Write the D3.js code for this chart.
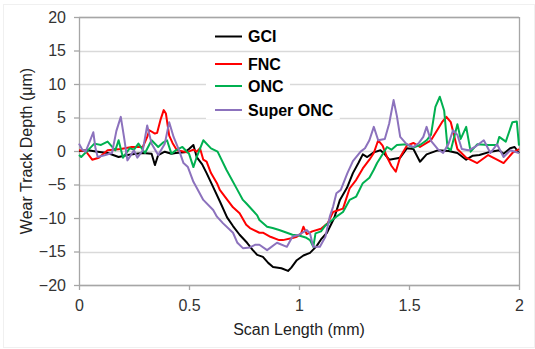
<!DOCTYPE html>
<html>
<head>
<meta charset="utf-8">
<script src="https://cdn.jsdelivr.net/npm/d3@7/dist/d3.min.js"></script>
<style>
	body{margin:0;background:#fff;}
	svg text{font-family:"Liberation Sans", Arial, sans-serif;}
</style>
</head>
<body>
<svg id="chart" width="535" height="349"></svg>
<script>

// values, [scan length mm, depth um]
var seriesNames = ["GCI", "FNC", "ONC", "Super ONC"];
var xTicks = [0, 0.5, 1, 1.5, 2];
var yTicks = [-20, -15, -10, -5, 0, 5, 10, 15, 20];

var gci = [[0,0],[0.04,0.1],[0.085,-0.1],[0.13,-0.3],[0.18,-0.9],[0.22,-0.6],[0.26,-0.4],[0.29,-0.3],[0.33,-0.4],[0.345,-2.1],[0.36,-0.6],[0.39,-0.1],[0.42,-0.4],[0.44,-0.3],[0.48,-0.2],[0.5,0.3],[0.52,0.9],[0.535,-0.9],[0.56,-2],[0.58,-3.3],[0.61,-5.4],[0.64,-7.5],[0.673,-9.9],[0.7,-11.2],[0.73,-12.5],[0.764,-13.7],[0.79,-14.8],[0.81,-15.5],[0.836,-15.8],[0.86,-16.7],[0.882,-17.3],[0.92,-17.5],[0.95,-17.9],[0.965,-17.4],[0.99,-16.3],[1.02,-15.6],[1.05,-15.2],[1.08,-14.2],[1.1,-13.2],[1.127,-12.2],[1.16,-10],[1.186,-7.3],[1.218,-5.5],[1.245,-3.3],[1.27,-1.8],[1.29,-0.5],[1.31,-0.9],[1.34,-0.2],[1.37,0.1],[1.39,-0.5],[1.41,-1.3],[1.46,-1],[1.49,0.4],[1.52,0.3],[1.55,-1.6],[1.58,-0.5],[1.63,0.1],[1.68,0],[1.72,-0.3],[1.76,-1.3],[1.79,-0.7],[1.82,-0.6],[1.86,-0.2],[1.91,0.1],[1.93,-0.4],[1.96,0.4],[1.98,0.6],[2,-0.3]];

var fnc = [[0,0.1],[0.03,0],[0.06,-1.3],[0.09,-1],[0.13,0.1],[0.19,0.3],[0.24,0.6],[0.29,0.6],[0.31,2.1],[0.32,3.1],[0.345,2.6],[0.355,2.7],[0.37,4.6],[0.385,6.1],[0.395,5.6],[0.41,2.3],[0.425,1.2],[0.445,0.1],[0.49,-0.2],[0.52,0.2],[0.535,-0.1],[0.55,0.4],[0.565,-1.3],[0.58,-1.6],[0.6,-3.3],[0.627,-4.8],[0.64,-5.8],[0.7,-8.4],[0.73,-9.3],[0.76,-11],[0.777,-11.5],[0.82,-12.2],[0.836,-12.2],[0.87,-12.8],[0.91,-13.3],[0.927,-13.3],[0.97,-13],[0.99,-12.8],[1.01,-12.3],[1.02,-11.3],[1.035,-12.4],[1.06,-12],[1.1,-11.6],[1.13,-10.8],[1.155,-9.1],[1.2,-8.6],[1.23,-5.6],[1.26,-4.3],[1.29,-2.6],[1.32,-1.3],[1.34,-0.3],[1.36,1.6],[1.38,0.8],[1.4,-0.9],[1.42,-2.2],[1.44,-3.1],[1.46,-0.9],[1.49,0.8],[1.52,1.2],[1.55,0.6],[1.58,1.2],[1.6,1.6],[1.63,3.2],[1.65,4.3],[1.67,5.1],[1.69,4.3],[1.72,0.3],[1.76,-1],[1.81,-1.8],[1.86,-0.6],[1.9,-1.3],[1.93,-1.8],[1.97,-0.3],[2,0.3]];

var onc = [[0,-0.6],[0.01,-0.9],[0.04,0.1],[0.07,1.1],[0.1,0.9],[0.13,1.4],[0.165,0.1],[0.18,1.6],[0.2,-1],[0.23,0.4],[0.25,0.2],[0.27,1.1],[0.3,-0.3],[0.33,1.6],[0.36,0.6],[0.38,1.2],[0.4,1.6],[0.42,-0.4],[0.44,0.1],[0.47,0.6],[0.5,-0.4],[0.52,-2.4],[0.535,-0.9],[0.565,1.6],[0.6,0.4],[0.63,-0.1],[0.67,-2.8],[0.72,-5.8],[0.745,-7.3],[0.76,-7.8],[0.81,-9.6],[0.82,-10.3],[0.855,-11.3],[0.88,-11.5],[0.91,-11.8],[0.945,-12.2],[0.97,-12.5],[1,-12.6],[1.03,-12.9],[1.05,-13.3],[1.065,-14.3],[1.075,-12.3],[1.1,-12],[1.12,-11.1],[1.14,-10.6],[1.17,-9.8],[1.2,-9.1],[1.23,-7.3],[1.26,-6.8],[1.29,-4.8],[1.32,-4],[1.34,-2.8],[1.355,-1.8],[1.37,-1],[1.4,0.6],[1.42,0.2],[1.445,0.9],[1.49,1],[1.52,0.5],[1.55,0.9],[1.58,1.6],[1.6,2.4],[1.62,6.6],[1.64,8.1],[1.66,6],[1.675,0.5],[1.69,0.1],[1.72,4],[1.735,1.8],[1.76,3.6],[1.78,-0.1],[1.81,1],[1.86,0.9],[1.9,0.9],[1.91,2.1],[1.94,1.4],[1.97,4.3],[1.99,4.4],[2,0.8]];

var superOnc = [[0,1.1],[0.015,0.2],[0.03,-0.1],[0.05,1.5],[0.065,2.8],[0.075,0.4],[0.085,-0.9],[0.12,-0.6],[0.15,-0.3],[0.17,3],[0.19,5.1],[0.205,2],[0.22,-1.4],[0.25,0.1],[0.265,-1],[0.29,0.1],[0.31,3.8],[0.33,1.1],[0.36,-0.6],[0.39,1.1],[0.41,4.3],[0.43,2.1],[0.455,0.1],[0.475,-1.8],[0.495,-2.4],[0.52,-4.6],[0.535,-5.5],[0.565,-7.3],[0.61,-8.8],[0.627,-9.8],[0.655,-10.8],[0.7,-12.2],[0.72,-13.7],[0.745,-14.5],[0.777,-14.4],[0.8,-14],[0.82,-14],[0.855,-14.8],[0.9,-13.7],[0.945,-14.3],[0.97,-12.8],[1,-12.5],[1.035,-11.8],[1.05,-12.3],[1.065,-14.3],[1.095,-14.3],[1.12,-12.8],[1.14,-9.8],[1.155,-8.3],[1.17,-6.3],[1.19,-5.8],[1.22,-3.3],[1.245,-1.5],[1.28,-0.1],[1.3,0.4],[1.32,1.6],[1.34,3.6],[1.36,1.6],[1.39,1.8],[1.41,4.1],[1.43,7.6],[1.445,5.2],[1.46,2.1],[1.49,1],[1.52,0.6],[1.545,1.2],[1.565,2.1],[1.58,3.6],[1.6,1.5],[1.63,0.3],[1.655,-0.3],[1.68,1.1],[1.7,3.1],[1.72,2.4],[1.74,0.3],[1.77,0.1],[1.8,0.6],[1.84,1.6],[1.87,-0.3],[1.9,1],[1.93,-0.9],[1.96,0.1],[2,-0.3]];

var seriesData = [gci, fnc, onc, superOnc];
var colors = ["#000000", "#ff0000", "#00b050", "#8c72bd"];

var W = 535, H = 349;
var margin = {top:17, right:16, bottom:64, left:79};
var w = W - margin.left - margin.right;
var h = H - margin.top - margin.bottom;

var svg = d3.select("#chart");

// faint outer chart border
svg.append("rect")
	.attr("x", 3.5).attr("y", 4.5)
	.attr("width", W - 4).attr("height", H - 6)
	.attr("fill", "none").attr("stroke", "#f0f0f0");

var g = svg.append("g").attr("transform", "translate(" + margin.left + "," + margin.top + ")");

var x = d3.scaleLinear().domain([0, 2]).range([0, w]);
var y = d3.scaleLinear().domain([-20, 20]).range([h, 0]);

// gridlines
g.append("g").selectAll("line")
	.data(yTicks)
	.enter()
	.append("line")
	.attr("x1", 0).attr("x2", w)
	.attr("y1", function(d){ return Math.round(y(d)) + 0.5; })
	.attr("y2", function(d){ return Math.round(y(d)) + 0.5; })
	.attr("stroke", "#d9d9d9")
	.attr("stroke-width", 1.3);

// top + right border of the plot area
g.append("line")
	.attr("x1", w + 0.5).attr("x2", w + 0.5)
	.attr("y1", 0).attr("y2", h)
	.attr("stroke", "#a6a6a6").attr("stroke-width", 1.3);
g.append("line")
	.attr("x1", 0).attr("x2", w)
	.attr("y1", 0.5).attr("y2", 0.5)
	.attr("stroke", "#a6a6a6").attr("stroke-width", 1.3);

var yAxis = d3.axisLeft(y).tickValues(yTicks).tickSize(5).tickSizeOuter(0).tickPadding(8);
var xAxis = d3.axisBottom(x).tickValues(xTicks).tickSize(5).tickSizeOuter(0).tickPadding(10)
	.tickFormat(function(d){ return String(d); });

var gy = g.append("g").call(yAxis);
var gx = g.append("g").attr("transform", "translate(0," + h + ")").call(xAxis);

[gx, gy].forEach(function(ax){
	ax.select(".domain").attr("stroke", "#a6a6a6").attr("stroke-width", 1.3);
	ax.selectAll(".tick line").attr("stroke", "#a6a6a6").attr("stroke-width", 1.3);
	ax.selectAll(".tick text")
		.attr("fill", "#333")
		.style("font-size", "16px")
		.style("font-family", "'Liberation Sans', Arial, sans-serif");
});

// curves
var line = d3.line()
	.x(function(d){ return x(d[0]); })
	.y(function(d){ return y(d[1]); });

g.append("g").selectAll("path")
	.data(seriesData)
	.enter()
	.append("path")
	.attr("d", line)
	.attr("fill", "none")
	.attr("stroke", function(d, i){ return colors[i]; })
	.attr("stroke-width", 2)
	.attr("stroke-linejoin", "round");

// axis titles
svg.append("text")
	.attr("x", margin.left + w / 2)
	.attr("y", 335)
	.attr("text-anchor", "middle")
	.attr("fill", "#222")
	.style("font-size", "16px")
	.text("Scan Length (mm)");

svg.append("text")
	.attr("transform", "translate(31.5," + (margin.top + h / 2) + ") rotate(-90)")
	.attr("text-anchor", "middle")
	.attr("fill", "#222")
	.style("font-size", "16px")
	.text("Wear Track Depth (μm)");

// legend, each entry sits on its own white patch like excel does
var legendY = [36.5, 64, 86, 110];
var legend = svg.append("g");
var items = legend.selectAll("g")
	.data(seriesNames)
	.enter()
	.append("g")
	.attr("transform", function(d, i){ return "translate(0," + legendY[i] + ")"; });

items.append("rect")
	.attr("class", "bg")
	.attr("x", 206).attr("y", -9)
	.attr("height", 18)
	.attr("fill", "#fff");

items.append("line")
	.attr("x1", 215).attr("x2", 242)
	.attr("y1", 0).attr("y2", 0)
	.attr("stroke", function(d, i){ return colors[i]; })
	.attr("stroke-width", 2);

items.append("text")
	.attr("x", 248)
	.attr("dy", "0.36em")
	.attr("fill", "#000")
	.style("font-size", "16px")
	.style("font-weight", "bold")
	.text(function(d){ return d; });

items.each(function(){
	var it = d3.select(this);
	var bb = it.select("text").node().getBBox();
	it.select("rect.bg").attr("width", bb.x + bb.width + 6 - 206);
});

</script>
</body>
</html>
